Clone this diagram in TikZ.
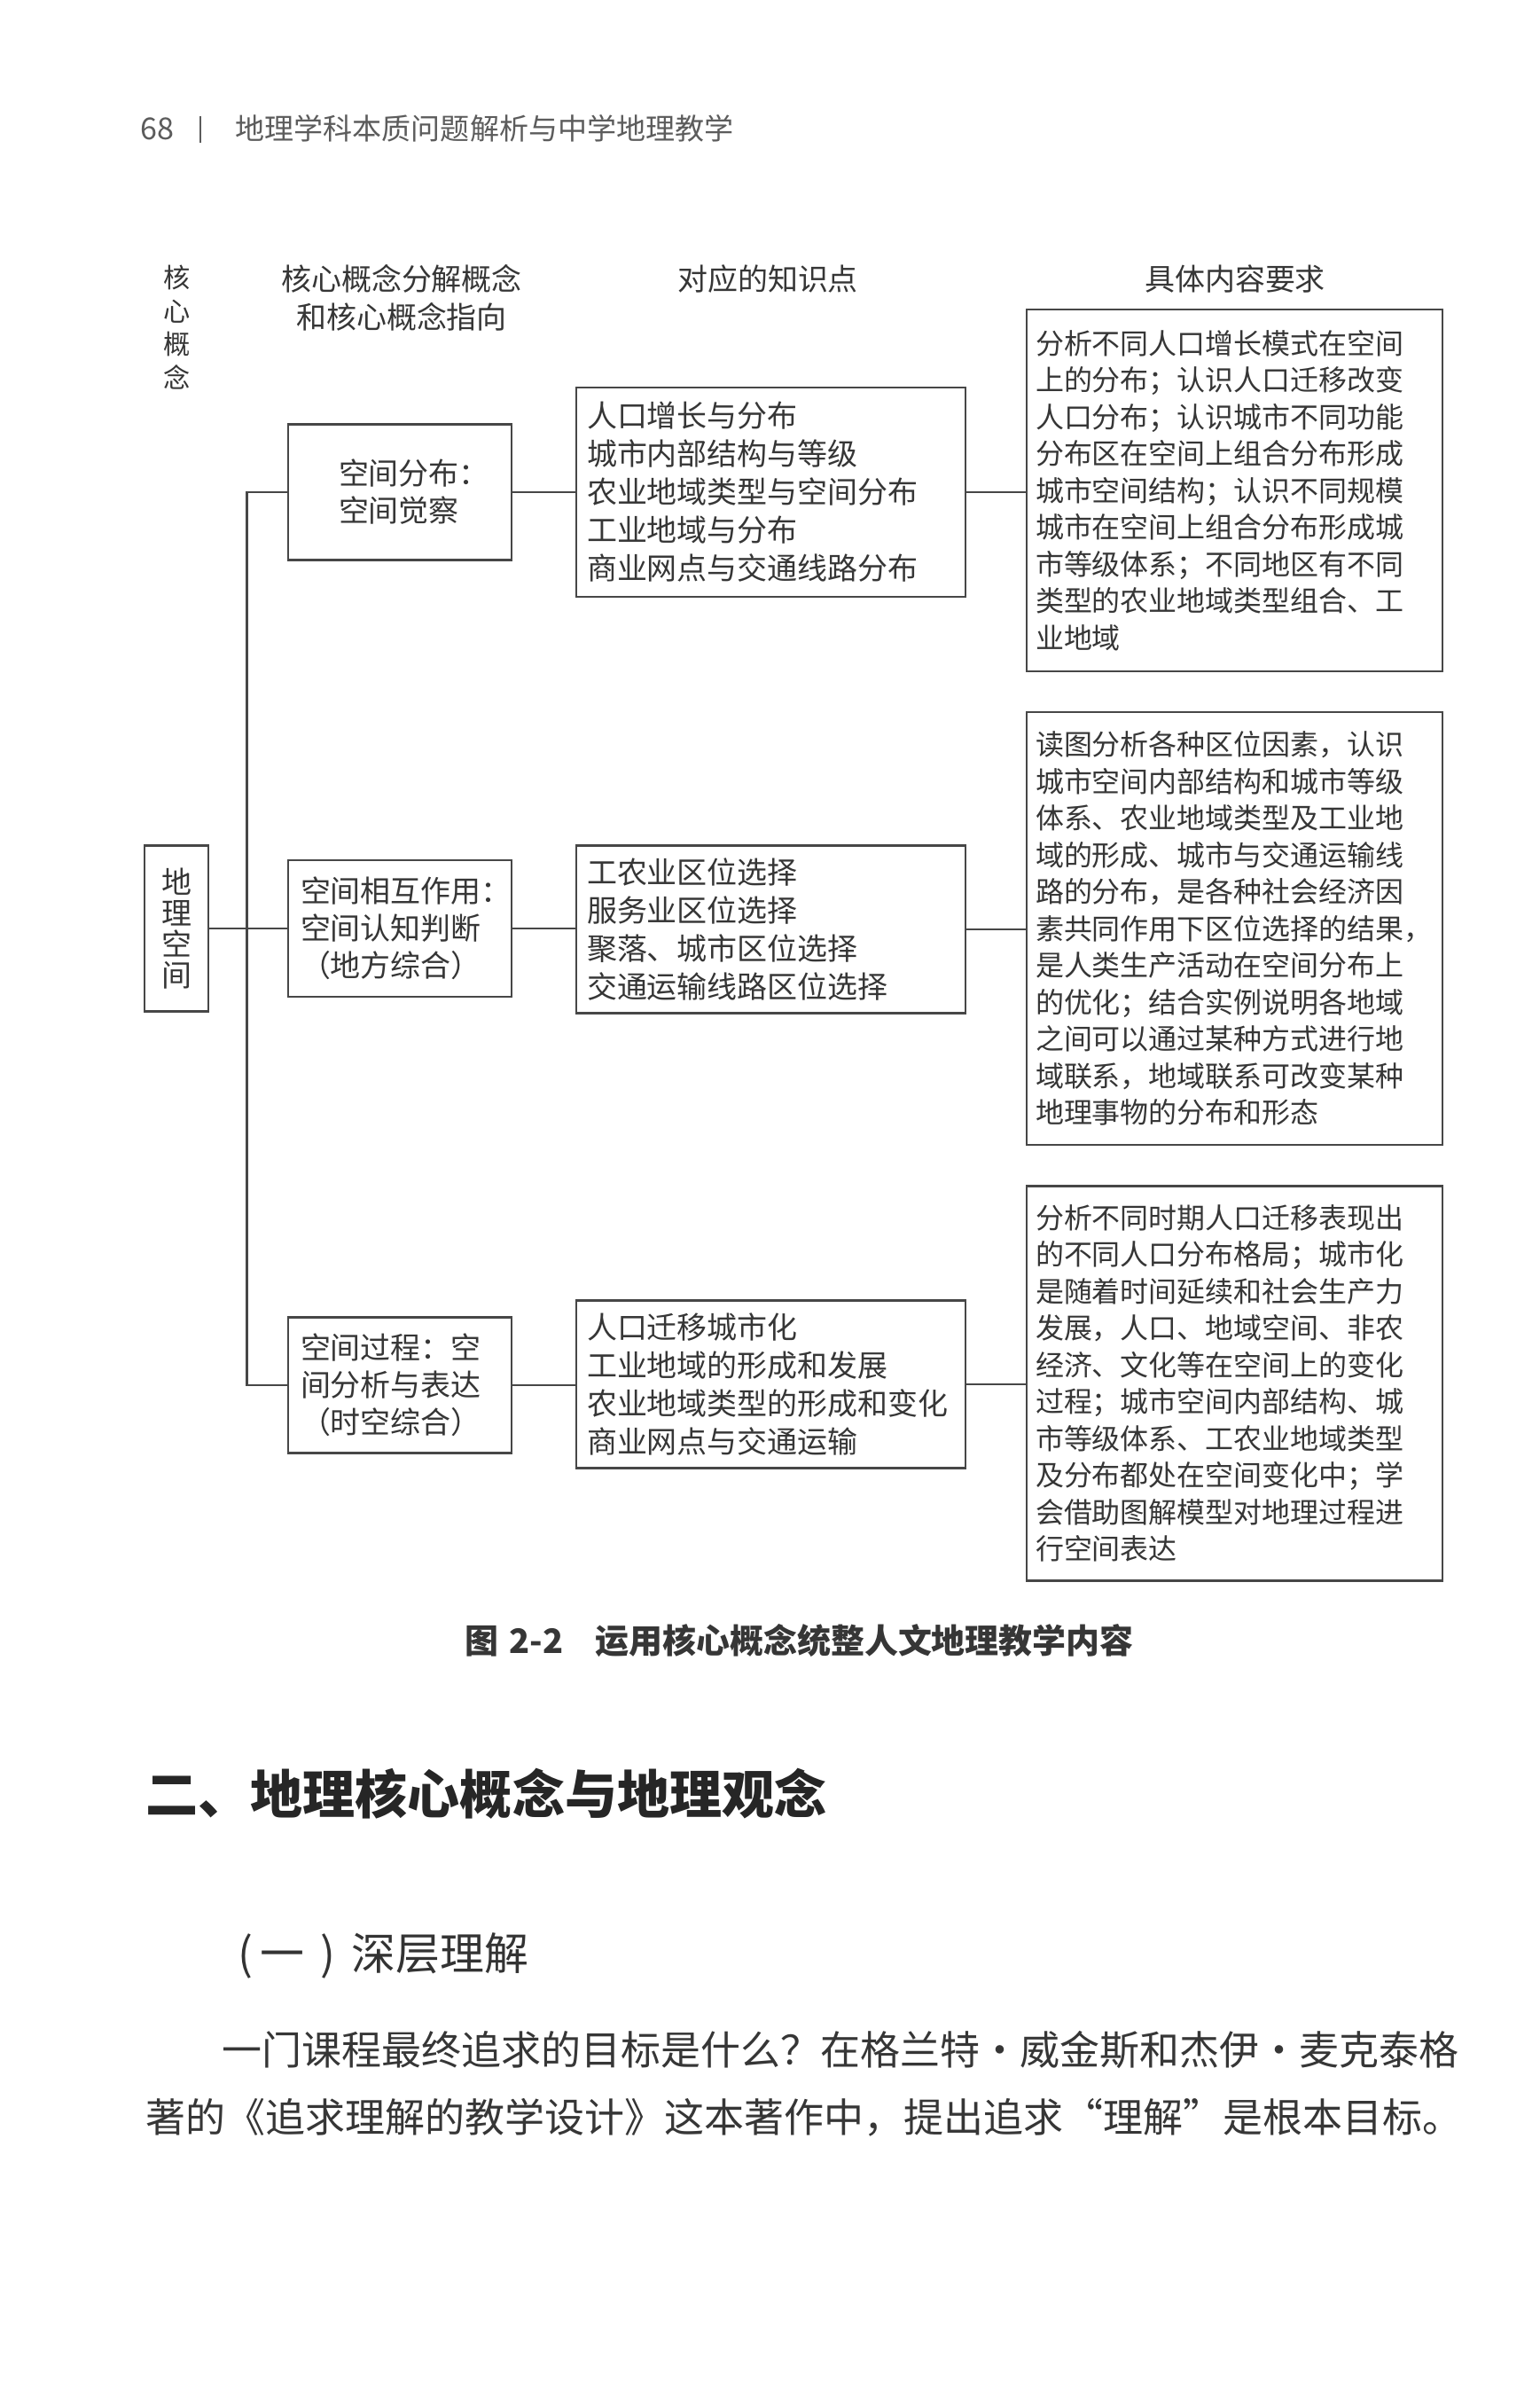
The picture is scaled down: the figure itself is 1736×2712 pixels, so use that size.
\documentclass[tikz,border=0pt]{standalone}
\usepackage{fontspec}
\setmainfont{Noto Sans CJK SC}
\usetikzlibrary{calc}
\definecolor{ink}{HTML}{363636}
\definecolor{rulec}{HTML}{474747}
\definecolor{hdr}{HTML}{5C5C5C}
\newcommand\fsz[2]{\fontsize{#1}{#2}\selectfont}
\newcommand\cdotbox{\makebox[4.5mm]{·}}
\begin{document}
\begin{tikzpicture}[x=0.1mm,y=-0.1mm,
  every node/.style={inner sep=0pt, text=ink},
  box/.style={draw=rulec, line width=0.25mm, inner ysep=0pt, align=left},
  abox/.style={box, minimum width=25.2mm, minimum height=15.3mm, inner xsep=0pt, font=\fsz{9.67pt}{4.2mm}},
  bbox/.style={box, minimum width=43.9mm, text width=41.5mm, inner xsep=1.2mm, font=\fsz{9.67pt}{4.3mm}},
  cbox/.style={box, minimum width=46.9mm, text width=44.9mm, inner xsep=1mm, font=\fsz{9.1pt}{4.15mm}},
  gbox/.style={box, align=center, minimum width=7.2mm, minimum height=18.7mm, inner xsep=0pt, font=\fsz{9.67pt}{3.5mm}},
  colhead/.style={align=center, font=\fsz{9.67pt}{4.3mm}},
  conn/.style={draw=rulec, line width=0.25mm}
]
\path[use as bounding box, fill=white] (0,0) rectangle (1736,2712);

% running header
\node[text=hdr, font=\fsz{9.7pt}{12pt}] (pg) at (177,145) {68};
\draw[hdr, line width=0.12mm] (226,131) -- (226,161);
\node[text=hdr, anchor=west, font=\fsz{9.4pt}{12pt}] (rh) at (265,145) {地理学科本质问题解析与中学地理教学};

% column headings
\node[align=center, font=\fsz{8.6pt}{3.75mm}] (h1) at (200,369) {核\\心\\概\\念};
\node[colhead] (h2) at (453,336) {核心概念分解概念\\和核心概念指向};
\node[colhead] (h3) at (866,315) {对应的知识点};
\node[colhead] (h4) at (1393,315) {具体内容要求};

% root
\node[gbox] (geo) at (199,1047) {地\\理\\空\\间};

% core-concept boxes
\node[abox, text width=13.8mm] (A1) at (451,555) {空间分布：\\空间觉察};
\node[abox, text width=22.4mm, minimum height=15.4mm] (A2) at (451,1047) {空间相互作用：\\空间认知判断\\（地方综合）};
\node[abox, text width=22.4mm] (A3) at (451,1562) {空间过程：空\\间分析与表达\\（时空综合）};

% knowledge boxes
\node[bbox, minimum height=23.6mm] (B1) at (869.5,555) {人口增长与分布\\城市内部结构与等级\\农业地域类型与空间分布\\工业地域与分布\\商业网点与交通线路分布};
\node[bbox, minimum height=18.9mm] (B2) at (869.5,1048) {工农业区位选择\\服务业区位选择\\聚落、城市区位选择\\交通运输线路区位选择};
\node[bbox, minimum height=18.9mm] (B3) at (869.5,1561) {人口迁移城市化\\工业地域的形成和发展\\农业地域类型的形成和变化\\商业网点与交通运输};

% requirement boxes
\node[cbox, minimum height=40.8mm] (C1) at (1392.5,553) {分析不同人口增长模式在空间\\上的分布；认识人口迁移改变\\人口分布；认识城市不同功能\\分布区在空间上组合分布形成\\城市空间结构；认识不同规模\\城市在空间上组合分布形成城\\市等级体系；不同地区有不同\\类型的农业地域类型组合、工\\业地域};
\node[cbox, minimum height=48.8mm] (C2) at (1392.5,1047) {读图分析各种区位因素，认识\\城市空间内部结构和城市等级\\体系、农业地域类型及工业地\\域的形成、城市与交通运输线\\路的分布，是各种社会经济因\\素共同作用下区位选择的结果\rlap{，}\\是人类生产活动在空间分布上\\的优化；结合实例说明各地域\\之间可以通过某种方式进行地\\域联系，地域联系可改变某种\\地理事物的分布和形态};
\node[cbox, minimum height=44.5mm] (C3) at (1392.5,1560) {分析不同时期人口迁移表现出\\的不同人口分布格局；城市化\\是随着时间延续和社会生产力\\发展，人口、地域空间、非农\\经济、文化等在空间上的变化\\过程；城市空间内部结构、城\\市等级体系、工农业地域类型\\及分布都处在空间变化中；学\\会借助图解模型对地理过程进\\行空间表达};

% connectors
\coordinate (T) at ($(geo.east)!0.48!(A2.west)$);
\draw[conn] (geo.east) -- (A2.west);
\draw[conn] (A1.west) -| (T) |- (A3.west);
\draw[conn] (A1.east) -- (A1.east -| B1.west);
\draw[conn] (A2.east) -- (A2.east -| B2.west);
\draw[conn] (A3.east) -- (A3.east -| B3.west);
\draw[conn] (B1.east) -- (B1.east -| C1.west);
\draw[conn] (B2.east) -- (B2.east -| C2.west);
\draw[conn] (B3.east) -- (B3.east -| C3.west);

% caption and text
\node[anchor=west, font=\bfseries\fsz{10.8pt}{13pt}] (cap) at (524,1850) {图\hspace{1.2mm}2-2\hspace{3.6mm}运用核心概念统整人文地理教学内容};
\node[anchor=west, text=black!85, font=\bfseries\fsz{16.8pt}{20pt}] (sec) at (164,2023) {二、地理核心概念与地理观念};
\node[anchor=west, text=black!80, font=\fsz{14.2pt}{17pt}] (sub) at (268,2205) {\makebox[2.5mm][l]{(}一\makebox[5.3mm]{)}深层理解};
\node[anchor=west, font=\fsz{12.8pt}{16pt}] (p1) at (250,2312) {一门课程最终追求的目标是什么？在格兰特\cdotbox 威金斯和杰伊\cdotbox 麦克泰格};
\node[anchor=west, font=\fsz{12.8pt}{16pt}] (p2) at (164,2388) {著的《追求理解的教学设计》这本著作中，提出追求“理解”是根本目标。};
\end{tikzpicture}
\end{document}
